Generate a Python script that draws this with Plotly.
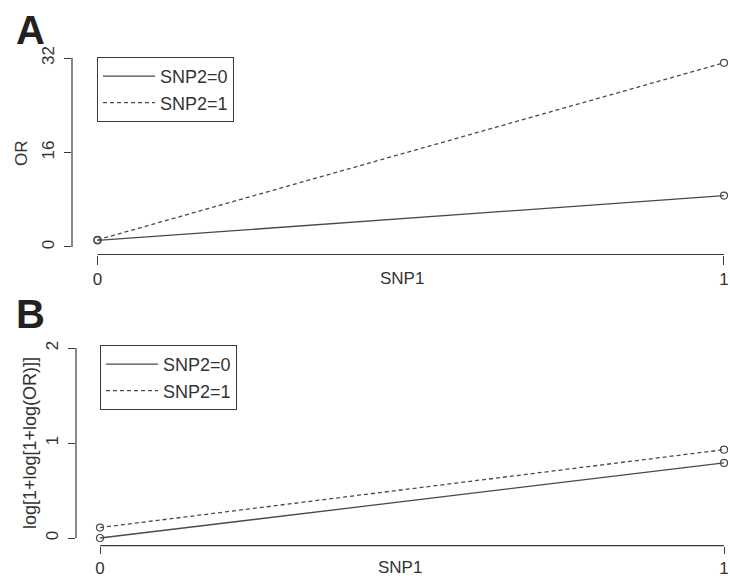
import plotly.graph_objects as go

# ---- data ----
snp1 = [0, 1]
or_snp2_0 = [1.1, 8.7]
or_snp2_1 = [1.2, 31.2]
tr_snp2_0 = [0.0, 0.79]
tr_snp2_1 = [0.11, 0.93]
series_names = ["SNP2=0", "SNP2=1"]
a_yticks = [0, 16, 32]
b_yticks = [0, 1, 2]
x_ticks = [0, 1]

W, H = 730, 579
def px_x(p): return p / W
def px_y(p): return 1 - p / H

AX = "#3a3a3a"
LN = "#4a4a4a"
FONT = "Liberation Sans, Arial, sans-serif"

fig = go.Figure()

def add_series(xv, yv, name, dash, xa, ya, legend):
    fig.add_trace(go.Scatter(x=xv, y=yv, mode="lines", name=name,
                             line=dict(color=LN, width=1.3, dash=dash),
                             xaxis=xa, yaxis=ya, legend=legend, cliponaxis=False))
    fig.add_trace(go.Scatter(x=xv, y=yv, mode="markers", showlegend=False,
                             marker=dict(symbol="circle-open", size=7, color=LN, line=dict(width=1.2)),
                             xaxis=xa, yaxis=ya, cliponaxis=False))

add_series(snp1, or_snp2_0, series_names[0], "solid", "x", "y", "legend")
add_series(snp1, or_snp2_1, series_names[1], "4px,3px", "x", "y", "legend")
add_series(snp1, tr_snp2_0, series_names[0], "solid", "x2", "y2", "legend2")
add_series(snp1, tr_snp2_1, series_names[1], "4px,3px", "x2", "y2", "legend2")

tickfont = dict(family=FONT, size=17, color="#333")

# panel geometry (page px)
a_left, a_top, a_bottom = 72, 50.5, 254.5
b_left, b_top, b_bottom = 76, 340.4, 545.6

common_x = dict(showgrid=False, zeroline=False, showline=False, ticks="outside",
                ticklen=9, tickwidth=1, tickcolor=AX, tickvals=x_ticks,
                ticktext=[str(v) for v in x_ticks], tickfont=tickfont, automargin=False,
                ticklabelstandoff=0, ticklabeloverflow="allow")
common_y = dict(showgrid=False, zeroline=False, showline=False, ticks="outside",
                ticklen=7, tickwidth=1, tickcolor=AX, tickangle=-90, tickfont=tickfont,
                automargin=False, ticklabelstandoff=3, ticklabeloverflow="allow")

legend_common = dict(xanchor="left", yanchor="top", bordercolor=AX, borderwidth=1,
                     bgcolor="white", font=dict(family=FONT, size=18, color="#333"),
                     tracegroupgap=0, itemwidth=52)

fig.update_layout(
    width=W, height=H,
    margin=dict(l=0, r=0, t=0, b=0),
    paper_bgcolor="white", plot_bgcolor="white",
    xaxis=dict(common_x, domain=[px_x(a_left), 1], range=[-0.0407, 1.0096], anchor="y"),
    yaxis=dict(common_y, domain=[px_y(a_bottom), px_y(a_top)], range=[-1.28, 33.28],
               tickvals=a_yticks, ticktext=[str(v) for v in a_yticks], anchor="x"),
    xaxis2=dict(common_x, domain=[px_x(b_left), 1], range=[-0.0385, 1.0096], anchor="y2",
                ticklen=7),
    yaxis2=dict(common_y, domain=[px_y(b_bottom), px_y(b_top)], range=[-0.08, 2.08],
                tickvals=b_yticks, ticktext=[str(v) for v in b_yticks], anchor="x2"),
    legend=dict(legend_common, x=px_x(97), y=px_y(57)),
    legend2=dict(legend_common, x=px_x(100), y=px_y(345)),
    showlegend=True,
)

# R-style axis lines (spanning only the tick range)
shapes = []
shapes.append(dict(type="line", xref="x domain", yref="y", x0=0, x1=0, y0=a_yticks[0], y1=a_yticks[-1],
                   line=dict(color=AX, width=1.2)))
shapes.append(dict(type="line", xref="x", yref="y domain", x0=x_ticks[0], x1=x_ticks[-1], y0=0, y1=0,
                   line=dict(color=AX, width=1.2)))
shapes.append(dict(type="line", xref="x2 domain", yref="y2", x0=0, x1=0, y0=b_yticks[0], y1=b_yticks[-1],
                   line=dict(color=AX, width=1.2)))
shapes.append(dict(type="line", xref="x2", yref="y2 domain", x0=x_ticks[0], x1=x_ticks[-1], y0=0, y1=0,
                   line=dict(color=AX, width=1.2)))
fig.update_layout(shapes=shapes)

def note(text, x, y, size, angle=0, color="#333"):
    return dict(text=text, x=px_x(x), y=px_y(y), xref="paper", yref="paper",
                xanchor="center", yanchor="middle", textangle=angle, showarrow=False,
                font=dict(family=FONT, size=size, color=color))

ann = [
    note("<b>A</b>", 30, 30, 40, color="#222"),
    note("<b>B</b>", 30, 314, 40, color="#222"),
    note("OR", 21, 153, 17, angle=-90),
    note("log[1+log[1+log(OR)]]", 30, 443, 18, angle=-90),
    note("SNP1", 402, 279, 17),
    note("SNP1", 400, 567, 17),
]
fig.update_layout(annotations=ann)

fig.write_html("out.html", config={"displayModeBar": False},
               post_script="document.body.style.margin='0';document.body.style.overflow='hidden';")
